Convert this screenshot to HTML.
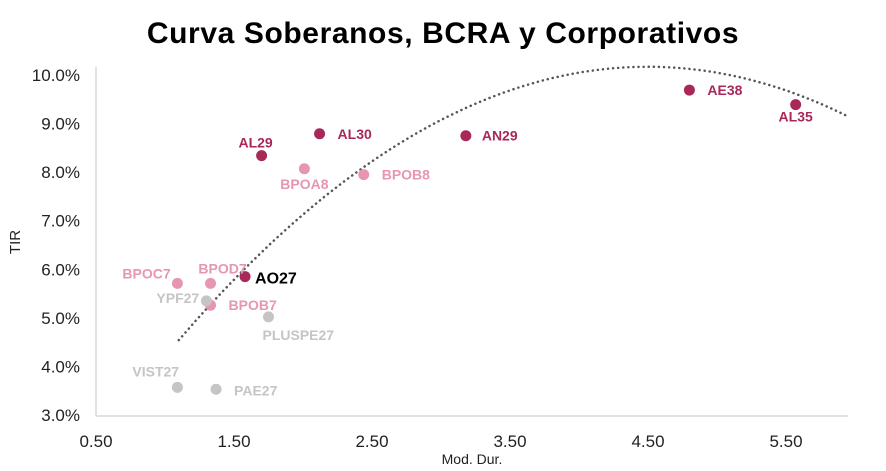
<!DOCTYPE html>
<html><head><meta charset="utf-8"><style>
body{margin:0;background:#fff;width:886px;height:471px;overflow:hidden}
svg{display:block;font-family:"Liberation Sans",sans-serif}
</style></head><body>
<svg id="c" width="886" height="471">
<text x="443" y="43" text-anchor="middle" font-size="30" letter-spacing="0.6" font-weight="bold" fill="#000">Curva Soberanos, BCRA y Corporativos</text>
<line x1="96" y1="67" x2="96" y2="416" stroke="#d9d9d9" stroke-width="1.5"/>
<line x1="96" y1="416" x2="848" y2="416" stroke="#d9d9d9" stroke-width="1.5"/>
<text x="20" y="242" font-size="15" fill="#222" transform="rotate(-90 20 242)" text-anchor="middle">TIR</text>
<text x="472" y="464" font-size="14" fill="#222" text-anchor="middle">Mod. Dur.</text>
<g id="ticks"></g><g id="trend"></g><g id="pts"></g>
</svg>
<script>
const names=["AE38","AL35","AN29","AL30","AL29","BPOA8","BPOB8","AO27","BPOD7","BPOC7","BPOB7","YPF27","PLUSPE27","VIST27","PAE27"];
const durations=[4.80,5.57,3.18,2.12,1.70,2.01,2.44,1.58,1.33,1.09,1.33,1.30,1.75,1.09,1.37];
const yields=[9.69,9.39,8.75,8.79,8.34,8.07,7.95,5.85,5.71,5.71,5.26,5.35,5.02,3.57,3.53];
const groups=["sob","sob","sob","sob","sob","bcra","bcra","sob","bcra","bcra","bcra","corp","corp","corp","corp"];
const xTicks=[0.5,1.5,2.5,3.5,4.5,5.5];
const xTickLabels=["0.50","1.50","2.50","3.50","4.50","5.50"];
const yTicks=[3,4,5,6,7,8,9,10];
const trendCoef=[-0.487,4.5,10.17];
const trendRange=[1.1,5.95];
const X=v=>96+(v-0.5)*138, Y=v=>415-(v-3)*48.57;
const NS="http://www.w3.org/2000/svg";
function mk(tag,attrs,parent,text){const e=document.createElementNS(NS,tag);for(const k in attrs)e.setAttribute(k,attrs[k]);if(text!=null)e.textContent=text;parent.appendChild(e);return e;}
const tg=document.getElementById('ticks');
xTicks.forEach((t,i)=>{const e=mk('text',{x:X(t),y:447,'font-size':17,fill:'#222','text-anchor':'middle'},tg,xTickLabels[i]);

});
yTicks.forEach(t=>{const e=mk('text',{x:80,y:Y(t)+6,'font-size':17,fill:'#222','text-anchor':'end'},tg,t.toFixed(1)+'%');

});
let d="";for(let i=0;i<=80;i++){const x=trendRange[0]+(trendRange[1]-trendRange[0])*i/80;const y=trendCoef[0]*(x-trendCoef[1])**2+trendCoef[2];d+=(i?"L":"M")+X(x).toFixed(1)+","+Y(y).toFixed(1);}
const tl=mk('path',{d:d,fill:'none',stroke:'#555','stroke-width':2.5,'stroke-dasharray':'0.1 5','stroke-linecap':'round'},document.getElementById('trend'));


const col={sob:'#a8285a',bcra:'#e796b2',corp:'#c6c4c4'};
const off={AE38:[18,5,'start'],AL35:[0,17,'middle'],AN29:[16,5,'start'],AL30:[18,5,'start'],AL29:[-6,-8,'middle'],BPOA8:[0,20,'middle'],BPOB8:[18,5,'start'],AO27:[10,7,'start'],BPOD7:[12,-10,'middle'],BPOC7:[-55,-5,'start'],BPOB7:[18,5,'start'],YPF27:[-50,2,'start'],PLUSPE27:[-6,23,'start'],VIST27:[-45,-11,'start'],PAE27:[18,6,'start']};
const pg=document.getElementById('pts');
names.forEach((n,i)=>{const cx=X(durations[i]),cy=Y(yields[i]);const c=col[groups[i]];
const p=mk('circle',{cx:cx,cy:cy,r:5.5,fill:c},pg);


const o=off[n];const t=mk('text',{x:cx+o[0],y:cy+o[1],'font-size':14,'font-weight':'bold',fill:n==="AO27"?'#000':c,'text-anchor':o[2]},pg,n);
if(n==="AO27")t.setAttribute('font-size',16);

});
</script>
</body></html>
